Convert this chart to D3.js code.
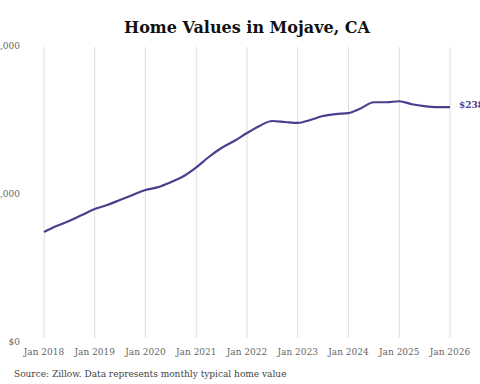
<!DOCTYPE html>
<html>
<head>
<meta charset="utf-8">
<script src="https://cdn.jsdelivr.net/npm/d3@7"></script>
<style>
  body { margin: 0; background: #fff; }
  svg { display: block; }
  .tick-label { font-family: "DejaVu Serif Condensed", "DejaVu Serif", serif; font-stretch: condensed; font-size: 10px; fill: #666; }
</style>
</head>
<body>
<div id="chart"></div>
<script>
// quarterly typical home values
const dates = [
  "2018-01","2018-04","2018-07","2018-10",
  "2019-01","2019-04","2019-07","2019-10",
  "2020-01","2020-04","2020-07","2020-10",
  "2021-01","2021-04","2021-07","2021-10",
  "2022-01","2022-04","2022-07","2022-10",
  "2023-01","2023-04","2023-07","2023-10",
  "2024-01","2024-04","2024-07","2024-10",
  "2025-01","2025-04","2025-07","2025-10",
  "2026-01"
];
const values = [
  111500,117600,122600,128700,
  134800,138900,143900,149000,
  154000,157000,162000,168000,
  177000,187500,196600,203700,
  211800,219000,224000,223000,
  222000,225000,229000,231000,
  232000,237000,243000,243000,
  244000,241000,239000,238000,
  238000
];
const yTicks = [0, 150000, 300000];
const xTickYears = [2018, 2019, 2020, 2021, 2022, 2023, 2024, 2025, 2026];
const endLabel = "$238,412";

const width = 480, height = 384;
const margin = {top: 46, right: 30, bottom: 42, left: 44};

const parse = d3.timeParse("%Y-%m");
const data = dates.map((d, i) => ({date: parse(d), value: values[i]}));

const svg = d3.select("#chart").append("svg")
    .attr("width", width)
    .attr("height", height);

// scales
const x = d3.scaleTime()
    .domain([new Date(2018, 0, 1), new Date(2026, 0, 1)])
    .range([margin.left, width - margin.right]);

const y = d3.scaleLinear()
    .domain([0, 300000])
    .range([height - margin.bottom, margin.top]);

// title
svg.append("text")
    .attr("x", 247)
    .attr("y", 33)
    .attr("text-anchor", "middle")
    .style("font-family", "DejaVu Serif, serif")
    .style("font-weight", "bold")
    .style("font-size", "16px")
    .style("fill", "#111")
    .text("Home Values in Mojave, CA");

// vertical gridlines
svg.append("g")
    .selectAll("line")
    .data(xTickYears)
    .enter()
    .append("line")
    .attr("x1", d => x(new Date(d, 0, 1)))
    .attr("x2", d => x(new Date(d, 0, 1)))
    .attr("y1", margin.top + 1)
    .attr("y2", height - margin.bottom - 4)
    .attr("stroke", "#dedede")
    .attr("stroke-width", 1);

// x labels
svg.append("g")
    .selectAll("text")
    .data(xTickYears)
    .enter()
    .append("text")
    .attr("class", "tick-label")
    .attr("x", d => x(new Date(d, 0, 1)))
    .attr("y", 355)
    .attr("text-anchor", "middle")
    .text(d => "Jan " + d);

// y labels
const fmt = d3.format("$,");
svg.append("g")
    .selectAll("text")
    .data(yTicks)
    .enter()
    .append("text")
    .attr("class", "tick-label")
    .attr("x", 20)
    .attr("y", d => y(d))
    .attr("dy", "0.32em")
    .attr("text-anchor", "end")
    .text(d => fmt(d));

// line
const line = d3.line()
    .x(d => x(d.date))
    .y(d => y(d.value))
    .curve(d3.curveMonotoneX);

svg.append("path")
    .datum(data)
    .attr("fill", "none")
    .attr("stroke", "#4a3f8c")
    .attr("stroke-width", 2.2)
    .attr("d", line);

// end label
const last = data[data.length - 1];
svg.append("text")
    .attr("x", x(last.date) + 9)
    .attr("y", y(last.value) - 2)
    .attr("dy", "0.32em")
    .style("font-family", "DejaVu Serif Condensed, DejaVu Serif, serif")
    .style("font-stretch", "condensed")
    .style("font-weight", "bold")
    .style("font-size", "10px")
    .style("fill", "#4a3f8c")
    .text(endLabel);

// source
svg.append("text")
    .attr("x", 14)
    .attr("y", 377)
    .style("font-family", "DejaVu Serif Condensed, DejaVu Serif, serif")
    .style("font-stretch", "condensed")
    .style("font-size", "10px")
    .style("fill", "#444")
    .text("Source: Zillow. Data represents monthly typical home value");
</script>
</body>
</html>
